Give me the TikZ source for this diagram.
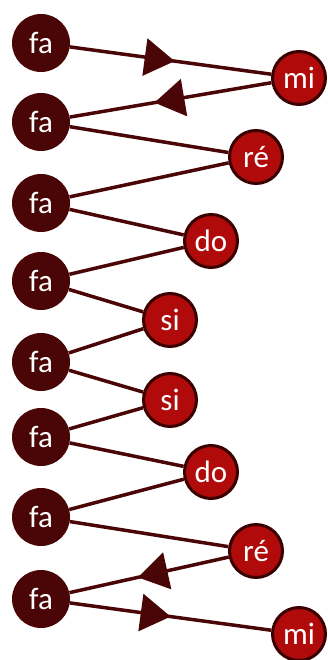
\documentclass[tikz,border=0pt]{standalone}
\usepackage{fontspec}
\setmainfont{Carlito}
\usepackage{tikz}
\usetikzlibrary{arrows.meta,decorations.markings,backgrounds}

\definecolor{faColor}{RGB}{74,6,6}
\definecolor{noteColor}{RGB}{176,10,10}
\definecolor{rimColor}{RGB}{58,0,0}

\begin{document}
\begin{tikzpicture}[
   x=1pt,y=-1pt,
   font=\fontsize{31}{32}\selectfont,
   fa/.style={circle,fill=faColor,text=white,inner sep=0pt,minimum size=58pt},
   note/.style={circle,fill=noteColor,draw=rimColor,line width=3pt,text=white,inner sep=0pt,minimum size=53pt},
   to/.style={line width=3.5pt,draw=faColor},
   midarrow/.style={to,postaction={decorate},
     decoration={markings,mark=at position #1 with {\arrow[faColor,line width=0pt]{Triangle[length=30pt,width=38pt]}}}}]
\useasboundingbox (0,0) rectangle (327,660);
% fa column
\node[fa] (fa1) at (41,43) {fa};
\node[fa] (fa2) at (41,122) {fa};
\node[fa] (fa3) at (41,203) {fa};
\node[fa] (fa4) at (41,281) {fa};
\node[fa] (fa5) at (41,362) {fa};
\node[fa] (fa6) at (41,437) {fa};
\node[fa] (fa7) at (41,517) {fa};
\node[fa] (fa8) at (41,599) {fa};
% notes
\node[note] (mi1) at (299,78) {mi};
\node[note] (re1) at (256,157) {ré};
\node[note] (do1) at (211,241) {do};
\node[note] (si1) at (170,320) {si};
\node[note] (si2) at (170,400) {si};
\node[note] (do2) at (211,472) {do};
\node[note] (re2) at (256,551) {ré};
\node[note] (mi2) at (299,634) {mi};
% links
\begin{scope}[on background layer]
\draw[midarrow=0.52]  (fa1) to (mi1);
\draw[midarrow=0.58]  (mi1) to (fa2);
\draw[to]  (fa2) to (re1);
\draw[to]  (re1) to (fa3);
\draw[to]  (fa3) to (do1);
\draw[to]  (do1) to (fa4);
\draw[to]  (fa4) to (si1);
\draw[to]  (si1) to (fa5);
\draw[to]  (fa5) to (si2);
\draw[to]  (si2) to (fa6);
\draw[to]  (fa6) to (do2);
\draw[to]  (do2) to (fa7);
\draw[to]  (fa7) to (re2);
\draw[midarrow=0.57]  (re2) to (fa8);
\draw[midarrow=0.50]  (fa8) to (mi2);
\end{scope}
\end{tikzpicture}
\end{document}
